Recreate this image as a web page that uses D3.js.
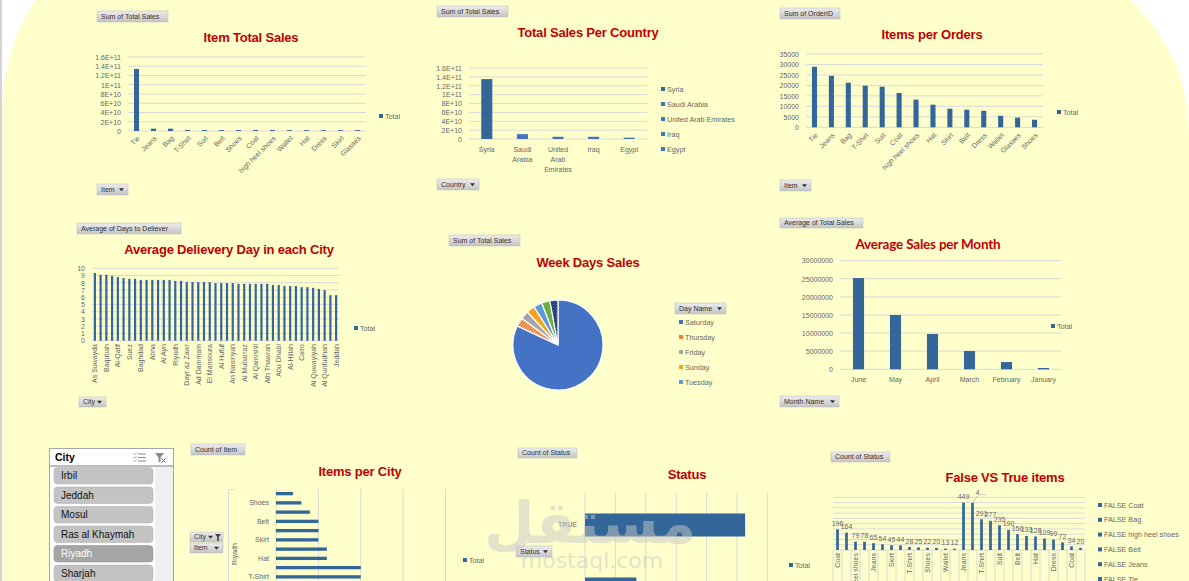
<!DOCTYPE html>
<html><head><meta charset="utf-8">
<script src="https://cdn.jsdelivr.net/npm/d3@7"></script>
<style>body{margin:0;background:#fff;} svg{display:block;}</style>
</head><body>
<script>
// ---------------- DATA ----------------
const itemSalesCats = ["Tie","Jeans","Bag","T-Shirt","Suit","Belt","Shoes","Coat","high heel shoes","Wallet","Hat","Dress","Skirt","Glasses"];
const itemSalesVals = [1.34e11,5e9,5e9,2.2e9,2e9,2e9,2e9,2e9,2e9,1.8e9,1.8e9,1.8e9,1.8e9,1.8e9];
const salesTickVals = [0,2e10,4e10,6e10,8e10,1e11,1.2e11,1.4e11,1.6e11];
const salesTickLabels = ["0","2E+10","4E+10","6E+10","8E+10","1E+11","1.2E+11","1.4E+11","1.6E+11"];

const countryCats = ["Syria","Saudi Arabia","United Arab Emirates","Iraq","Egypt"];
const countryVals = [1.35e11,1.1e10,5e9,5e9,3e9];

const orderItems = ["Tie","Jeans","Bag","T-Shirt","Suit","Coat","high heel shoes","Hat","Skirt","Belt","Dress","Wallet","Glasses","Shoes"];
const orderVals = [28900,24600,21300,19850,19400,16400,13200,10800,8900,8400,7900,5500,4600,3600];
const orderTicks = [0,5000,10000,15000,20000,25000,30000,35000];
const orderTickLabels = ["0","5000","10000","15000","20000","25000","30000","35000"];

const cityNames = ["As Suwayda","Irbil","Baqubah","Mosul","Al-Qatif","Giza","Suez","Latakia","Baghdad","Hama","Abha","Sharjah","Al Ayn","Alexandria","Riyadh","Basra","Dayr az Zawr","Mecca","Ad Dammam","Tartus","El Mansoura","Medina","Al Hufuf","Damascus","An Nasiriyah","Karbala","Al Mubarraz","Najaf","Al Qamishli","Tabuk","Ath Thawrah","Ras al Khaymah","Abu Dhabi","Luxor","Al-Hillah","Aswan","Cairo","Fujairah","Al Quwayiyah","Kirkuk","Al Qunfudhah","Buraydah","Jeddah"];
const cityDays = [9.35,9.1,9.1,8.95,8.8,8.65,8.55,8.55,8.4,8.4,8.4,8.4,8.4,8.4,8.25,8.25,8.1,8.1,8.1,8.1,8.1,7.95,7.95,7.95,7.95,7.85,7.85,7.85,7.85,7.85,7.85,7.7,7.7,7.55,7.55,7.55,7.4,7.4,7.3,7.15,7.0,6.3,6.3];
const dayTicks = [0,1,2,3,4,5,6,7,8,9,10];
const dayTickLabels = ["0","1","2","3","4","5","6","7","8","9","10"];

const weekDays = ["Saturday","Thursday","Friday","Sunday","Tuesday","Monday","Wednesday"];
const weekSales = [82,3.1,3.0,3.0,3.0,3.0,2.9];
const weekLegendShown = ["Saturday","Thursday","Friday","Sunday","Tuesday"];

const months = ["June","May","April","March","February","January"];
const monthSales = [25200000,15000000,9750000,5050000,2000000,360000];
const monthTicks = [0,5e6,1e7,1.5e7,2e7,2.5e7,3e7];
const monthTickLabels = ["0","5000000","10000000","15000000","20000000","25000000","30000000"];

const slicerCities = ["Irbil","Jeddah","Mosul","Ras al Khaymah","Riyadh","Sharjah"];
const selectedCity = "Riyadh";

const cityItems = ["Glasses","Shoes","Wallet","Belt","Dress","Skirt","Coat","Hat","Suit","T-Shirt","high heel shoes","Bag","Jeans","Tie"];
const cityItemCounts = [2,3,4,5,5,5,6,6,10,10,11,12,14,16];
const cityItemTicks = [0,5,10,15,20];

const statusCats = ["TRUE","FALSE"];
const statusCounts = [2634,845];
const statusTicks = [0,500,1000,1500,2000,2500,3000];

const fvtStatus = ["FALSE","FALSE","FALSE","FALSE","FALSE","FALSE","FALSE","FALSE","FALSE","FALSE","FALSE","FALSE","FALSE","FALSE","TRUE","TRUE","TRUE","TRUE","TRUE","TRUE","TRUE","TRUE","TRUE","TRUE","TRUE","TRUE","TRUE","TRUE"];
const fvtItems = ["Coat","Bag","high heel shoes","Belt","Jeans","Tie","Skirt","Suit","T-Shirt","Hat","Shoes","Dress","Wallet","Glasses","Jeans","Tie","T-Shirt","Bag","Suit","high heel shoes","Belt","Skirt","Hat","Wallet","Dress","Glasses","Coat","Shoes"];
const fvtCounts = [196,164,79,78,65,54,45,44,28,25,22,20,13,12,449,447,291,277,235,190,150,133,128,109,99,72,34,20];
const fvtTicks = [0,50,100,150,200,250,300,350,400,450,500];

// ---------------- DRAWING ----------------
const FONT = "'Liberation Sans', Arial, sans-serif";
const GRID = "#d9d9d9", TXT = "#666", BAR = "#336699", RED = "#C00000";
const svg = d3.select("body").append("svg").attr("width",1189).attr("height",581)
  .style("font-family",FONT);
const defs = svg.append("defs");
const lg = defs.append("linearGradient").attr("id","btn").attr("x1",0).attr("y1",0).attr("x2",0).attr("y2",1);
lg.append("stop").attr("offset",0).attr("stop-color","#ededed");
lg.append("stop").attr("offset",1).attr("stop-color","#c4c4c4");
const hatch = defs.append("pattern").attr("id","hatch").attr("patternUnits","userSpaceOnUse").attr("width",3).attr("height",3);
hatch.append("rect").attr("width",3).attr("height",3).attr("fill","#ED7D31");
hatch.append("path").attr("d","M0,3 L3,0").attr("stroke","#fbd2b5").attr("stroke-width",0.8);
const dots = defs.append("pattern").attr("id","dots").attr("patternUnits","userSpaceOnUse").attr("width",3).attr("height",3);
dots.append("rect").attr("width",3).attr("height",3).attr("fill","#264478");
dots.append("circle").attr("cx",1.5).attr("cy",1.5).attr("r",0.45).attr("fill","#8aa0c8");

// background
svg.append("path")
  .attr("d","M2.5,581 L2.5,110 A200,200 0 0 1 202.5,-90 L1009,-47 A180,180 0 0 1 1189,133 L1189,581 Z")
  .attr("fill","#FFFFCC");
svg.append("line").attr("x1",1).attr("x2",1).attr("y1",0).attr("y2",581).attr("stroke","#a8a8a8").attr("stroke-width",1);

function button(x,y,w,h,label,arrow,funnel){
  const g = svg.append("g");
  g.append("rect").attr("x",x).attr("y",y).attr("width",w).attr("height",h)
    .attr("fill","url(#btn)").attr("stroke","#b8b8b8").attr("stroke-width",0.5);
  g.append("text").attr("x",x+4).attr("y",y+h/2).attr("dy","0.35em").attr("font-size",7)
    .attr("fill","#333").text(label);
  if(arrow){
    const ax = funnel ? x+w-15 : x+w-9;
    g.append("path").attr("d",`M${ax},${y+h/2-1.3} l5,0 l-2.5,3 z`).attr("fill","#333");
  }
  if(funnel){
    const fx = x+w-8;
    g.append("path").attr("d",`M${fx},${y+2} l6,0 l-2.2,3 l0,4 l-1.6,0 l0,-4 z`).attr("fill","#444");
  }
}
function title(cx,cy,text,font,size){
  svg.append("text").attr("x",cx).attr("y",cy).attr("dy","0.36em").attr("text-anchor","middle")
    .attr("font-size",size||13).attr("font-weight","bold").attr("fill",RED)
    .style("font-family",font||FONT).attr("letter-spacing",-0.2).text(text);
}
function legendItem(x,y,color,text){
  svg.append("rect").attr("x",x).attr("y",y-2).attr("width",4).attr("height",4).attr("fill",color);
  svg.append("text").attr("x",x+6).attr("y",y).attr("dy","0.35em").attr("font-size",7.2).attr("fill",TXT).text(text);
}
function vbar(c){
  const g = svg.append("g");
  const x = d3.scaleBand().domain(c.keys).range([c.x0,c.x1]).paddingInner(c.pad).paddingOuter(c.pad/2);
  const y = d3.scaleLinear().domain([0,c.max]).range([c.y0,c.y1]);
  g.selectAll("line.grid").data(c.ticks).join("line").attr("class","grid")
    .attr("x1",c.x0).attr("x2",c.x1).attr("y1",d=>y(d)).attr("y2",d=>y(d))
    .attr("stroke",GRID).attr("stroke-width",1);
  if(c.tickLabels){
    const a = g.append("g").attr("transform",`translate(${c.x0},0)`)
      .call(d3.axisLeft(y).tickValues(c.ticks).tickFormat((d,i)=>c.tickLabels[i]).tickSize(0).tickPadding(7));
    a.select(".domain").remove();
    a.attr("font-size",7).attr("font-family",FONT);
    a.selectAll("text").attr("fill",TXT);
  }
  g.selectAll("rect.bar").data(c.vals).join("rect").attr("class","bar")
    .attr("x",(d,i)=>x(c.keys[i])).attr("width",x.bandwidth())
    .attr("y",d=>y(d)).attr("height",d=>c.y0-y(d))
    .attr("fill",(d,i)=>c.color ? c.color(i) : BAR);
  return {x,y,g};
}

// ---- Chart 1: Item Total Sales
button(97,11,71,11,"Sum of Total Sales");
title(251,37,"Item Total Sales");
{
  const c = vbar({keys:itemSalesCats,vals:itemSalesVals,x0:128,x1:366,y0:131,y1:57,max:1.6e11,
    ticks:salesTickVals,tickLabels:salesTickLabels,pad:0.7});
  c.g.selectAll("text.xl").data(itemSalesCats).join("text").attr("class","xl")
    .attr("transform",d=>`translate(${c.x(d)+c.x.bandwidth()/2+2},${137}) rotate(-45)`)
    .attr("text-anchor","end").attr("dy","0.35em").attr("font-size",7).attr("fill",TXT).text(d=>d);
}
legendItem(379,116,BAR,"Total");
button(97,184,31,11,"Item",true);

// ---- Chart 2: Total Sales Per Country
button(437,6,71,11,"Sum of Total Sales");
title(588,32,"Total Sales Per Country");
const countryColor = i => i===0 ? "#336699" : "#4472C4";
{
  const c = vbar({keys:countryCats,vals:countryVals,x0:469,x1:647,y0:139,y1:68,max:1.6e11,
    ticks:salesTickVals,tickLabels:salesTickLabels,pad:0.69,color:countryColor});
  countryCats.forEach(d=>{
    const t = c.g.append("text").attr("text-anchor","middle").attr("font-size",7).attr("fill",TXT);
    d.split(" ").forEach((w,k)=>{
      t.append("tspan").attr("x",c.x(d)+c.x.bandwidth()/2).attr("y",151.5+k*10).text(w);
    });
  });
}
countryCats.forEach((d,i)=>legendItem(661,89+i*15,countryColor(i),d));
button(437,179,42,11,"Country",true);

// ---- Chart 3: Items per Orders
button(780,8,60,11,"Sum of OrderID");
title(932,34,"Items per Orders");
{
  const c = vbar({keys:orderItems,vals:orderVals,x0:806,x1:1043,y0:127.3,y1:54,max:35000,
    ticks:orderTicks,tickLabels:orderTickLabels,pad:0.7});
  c.g.selectAll("text.xl").data(orderItems).join("text").attr("class","xl")
    .attr("transform",d=>`translate(${c.x(d)+c.x.bandwidth()/2+2},${134}) rotate(-45)`)
    .attr("text-anchor","end").attr("dy","0.35em").attr("font-size",7).attr("fill",TXT).text(d=>d);
}
legendItem(1057,112,BAR,"Total");
button(780,180,31,11,"Item",true);

// ---- Chart 4: Average Delievery Day in each City
button(77,223,104,11,"Average of Days to Deliever");
title(229,249,"Average Delievery Day in each City");
{
  const c = vbar({keys:cityNames,vals:cityDays,x0:92,x1:339,y0:340.7,y1:268.3,max:10,
    ticks:dayTicks,tickLabels:dayTickLabels,pad:0.62});
  c.g.selectAll("text.xl").data(cityNames.filter((d,i)=>i%2===0)).join("text").attr("class","xl")
    .attr("transform",d=>`translate(${c.x(d)+c.x.bandwidth()/2},${344}) rotate(-90)`)
    .attr("text-anchor","end").attr("dy","0.35em").attr("font-size",7).attr("fill",TXT).text(d=>d);
}
legendItem(354,328,BAR,"Total");
button(79,397,27,10,"City",true);

// ---- Chart 5: Week Days Sales (pie)
button(449,235,71,11,"Sum of Total Sales");
title(588,262,"Week Days Sales");
const dayColors = ["#4472C4","url(#hatch)","#A5A5A5","#F5A31A","#5B9BD5","#70AD47","url(#dots)"];
const legendDayColors = ["#4472C4","#ED7D31","#A5A5A5","#F5A31A","#5B9BD5"];
{
  const arcs = d3.pie().sort(null).value(d=>d)(weekSales);
  const arc = d3.arc().innerRadius(0).outerRadius(45);
  svg.append("g").attr("transform","translate(558,345)")
    .selectAll("path").data(arcs).join("path").attr("d",arc)
    .attr("fill",(d,i)=>dayColors[i]).attr("stroke","#fff").attr("stroke-width",1.2);
}
button(675,303,51,11,"Day Name",true);
weekLegendShown.forEach((d,i)=>legendItem(679,322+i*15,legendDayColors[weekDays.indexOf(d)],d));

// ---- Chart 6: Average Sales per Month
button(780,218,83,10,"Average of Total Sales");
title(928,244,"Average Sales per Month","Lato, 'Open Sans', sans-serif",13.5);
{
  const c = vbar({keys:months,vals:monthSales,x0:840,x1:1062,y0:369.3,y1:260.7,max:3e7,
    ticks:monthTicks,tickLabels:monthTickLabels,pad:0.7});
  c.g.selectAll("text.xl").data(months).join("text").attr("class","xl")
    .attr("x",d=>c.x(d)+c.x.bandwidth()/2).attr("y",381.5).attr("text-anchor","middle")
    .attr("font-size",7).attr("fill",TXT).text(d=>d);
}
legendItem(1051,326,BAR,"Total");
button(780,396,59,11,"Month Name",true);

// ---- Slicer
{
  const g = svg.append("g");
  g.append("rect").attr("x",49.5).attr("y",448.5).attr("width",124).attr("height",140)
    .attr("fill","#fff").attr("stroke","#a6a6a6");
  g.append("text").attr("x",55).attr("y",457).attr("dy","0.35em").attr("font-size",10.5)
    .attr("font-weight","bold").attr("fill","#000").text("City");
  // multi-select icon
  [454,457.5,461].forEach(yy=>{
    g.append("line").attr("x1",138).attr("x2",146).attr("y1",yy).attr("y2",yy).attr("stroke","#888").attr("stroke-width",1);
    g.append("path").attr("d",`M133.5,${yy-0.5} l1.2,1.2 l2,-2.2`).attr("fill","none").attr("stroke","#888").attr("stroke-width",0.8);
  });
  // clear filter icon
  g.append("path").attr("d","M155,453 L164,453 L160.5,457.5 L160.5,462 L158.5,462 L158.5,457.5 Z").attr("fill","#8a8a8a");
  g.append("path").attr("d","M161.5,458.5 L165.5,462.5 M165.5,458.5 L161.5,462.5").attr("stroke","#e03030").attr("stroke-width",1);
  g.append("line").attr("x1",50).attr("x2",173).attr("y1",466).attr("y2",466).attr("stroke","#a6a6a6").attr("stroke-width",1.5);
  g.append("rect").attr("x",155).attr("y",467).attr("width",18).attr("height",120).attr("fill","#f0f0f0");
  const ys = d3.scaleBand().domain(slicerCities).range([467.5,467.5+19*slicerCities.length]).paddingInner(3/19);
  g.selectAll("rect.it").data(slicerCities).join("rect").attr("class","it")
    .attr("x",54).attr("y",d=>ys(d)).attr("width",99).attr("height",ys.bandwidth()).attr("rx",3.5)
    .attr("fill",d=>d===selectedCity?"#a5a5a5":"#c3c3c3").attr("stroke",d=>d===selectedCity?"#999":"#b3b3b3").attr("stroke-width",0.6);
  g.selectAll("text.it").data(slicerCities).join("text").attr("class","it")
    .attr("x",61).attr("y",d=>ys(d)+ys.bandwidth()/2).attr("dy","0.36em").attr("font-size",10)
    .attr("fill",d=>d===selectedCity?"#fff":"#111").text(d=>d);
}

// ---- Items per City (horizontal bars)
button(191,444,54,11,"Count of Item");
title(360,471,"Items per City");
{
  const g = svg.append("g");
  const y = d3.scaleBand().domain(cityItems).range([489,489+14*9.25]).paddingInner(0.64).paddingOuter(0.32);
  const x = d3.scaleLinear().domain([0,20]).range([276,445.5]);
  g.selectAll("line.grid").data(cityItemTicks).join("line").attr("x1",d=>x(d)).attr("x2",d=>x(d))
    .attr("y1",489).attr("y2",581).attr("stroke",GRID);
  g.append("path").attr("d","M235,489.5 L228.5,489.5 L228.5,581").attr("fill","none").attr("stroke",GRID);
  g.selectAll("rect").data(cityItemCounts).join("rect")
    .attr("x",x(0)).attr("y",(d,i)=>y(cityItems[i])).attr("height",y.bandwidth())
    .attr("width",d=>x(d)-x(0)).attr("fill",BAR);
  g.selectAll("text.yl").data(cityItems.filter((d,i)=>i%2===1)).join("text").attr("class","yl")
    .attr("x",269).attr("y",d=>y(d)+y.bandwidth()/2).attr("dy","0.35em").attr("text-anchor","end")
    .attr("font-size",7).attr("fill",TXT).text(d=>d);
  g.append("text").attr("transform","translate(235,554) rotate(-90)").attr("text-anchor","middle")
    .attr("dy","0.35em").attr("font-size",7).attr("fill",TXT).text(selectedCity);
}
button(190,532,33,10,"City",true,true);
button(190,543,33,10,"Item",true);
legendItem(463,560,BAR,"Total");

// ---- Status
button(518,448,59,10,"Count of Status");
title(687,474,"Status");
{
  const g = svg.append("g");
  const y = d3.scaleBand().domain(statusCats).range([493,621]).paddingInner(0.64).paddingOuter(0.32);
  const x = d3.scaleLinear().domain([0,3000]).range([585,767.4]);
  g.selectAll("line.grid").data(statusTicks).join("line").attr("x1",d=>x(d)).attr("x2",d=>x(d))
    .attr("y1",493).attr("y2",581).attr("stroke",GRID);
  g.selectAll("rect").data(statusCounts).join("rect")
    .attr("x",x(0)).attr("y",(d,i)=>y(statusCats[i])).attr("height",y.bandwidth())
    .attr("width",d=>x(d)-x(0)).attr("fill",BAR);
  g.selectAll("text.yl").data(statusCats).join("text").attr("class","yl")
    .attr("x",577).attr("y",d=>y(d)+y.bandwidth()/2).attr("dy","0.35em").attr("text-anchor","end")
    .attr("font-size",7).attr("fill",TXT).text(d=>d);
}
button(516,546,36,11,"Status",true);
legendItem(789,565,BAR,"Total");

// ---- False VS True items
button(831,452,59,10,"Count of Status");
title(1005,477,"False VS True items");
{
  const keys = d3.range(fvtCounts.length);
  const c = vbar({keys:keys,vals:fvtCounts,x0:833,x1:1085,y0:550,y1:497.3,max:500,
    ticks:fvtTicks,tickLabels:null,pad:0.7});
  const bx = i => c.x(i)+c.x.bandwidth()/2;
  c.g.selectAll("text.dl").data(fvtCounts).join("text").attr("class","dl")
    .attr("x",(d,i)=> i===15 ? bx(i)+8 : bx(i))
    .attr("y",(d,i)=> i===15 ? c.y(d)-8 : c.y(d)-3.5)
    .attr("text-anchor","middle").attr("font-size",7).attr("fill",TXT)
    .text((d,i)=> i===15 ? "4..." : d);
  c.g.append("line").attr("x1",bx(15)+5).attr("y1",c.y(fvtCounts[15])-7).attr("x2",bx(15)+1).attr("y2",c.y(fvtCounts[15])-1)
    .attr("stroke","#aaa").attr("stroke-width",0.6);
  c.g.selectAll("line.sep").data(d3.range(fvtCounts.length+1)).join("line").attr("class","sep")
    .attr("x1",i=>833+i*c.x.step()).attr("x2",i=>833+i*c.x.step()).attr("y1",550).attr("y2",581)
    .attr("stroke",GRID);
  c.g.selectAll("text.xl").data(keys.filter(i=>i%2===0)).join("text").attr("class","xl")
    .attr("transform",i=>`translate(${bx(i)+0.5},${553}) rotate(-90)`)
    .attr("text-anchor","end").attr("dy","0.35em").attr("font-size",7).attr("fill",TXT).text(i=>fvtItems[i]);
}
d3.range(6).forEach(i=>legendItem(1098,505+i*14.8,BAR,fvtStatus[i]+" "+fvtItems[i]));

// ---- watermark overlay
svg.append("text").attr("x",590).attr("y",543).attr("text-anchor","middle").attr("font-size",58)
  .attr("font-weight","bold").style("font-family","'DejaVu Sans', sans-serif")
  .attr("fill","#c8c8c8").attr("opacity",0.5).text("مستقل");
svg.append("text").attr("x",592).attr("y",568).attr("text-anchor","middle").attr("font-size",22)
  .style("font-family","'DejaVu Sans', sans-serif")
  .attr("fill","#c8c8c8").attr("opacity",0.5).text("mostaql.com");
</script>
</body></html>
